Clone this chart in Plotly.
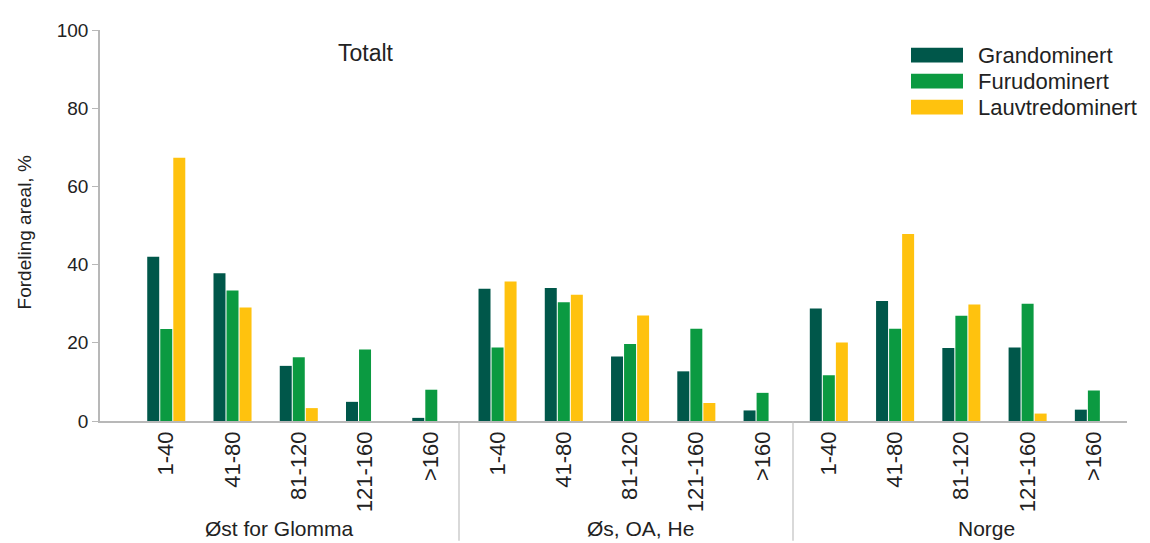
import plotly.graph_objects as go

# ---- data ----
groups = ["Øst for Glomma", "Øs, OA, He", "Norge"]
age_classes = ["1-40", "41-80", "81-120", "121-160", ">160"]
series_names = ["Grandominert", "Furudominert", "Lauvtredominert"]
series_colors = ["#00574a", "#0b9a41", "#ffc20e"]

grandominert = [42.0, 37.8, 14.1, 4.9, 0.8,
                33.8, 34.0, 16.5, 12.7, 2.7,
                28.8, 30.7, 18.7, 18.8, 2.9]
furudominert = [23.5, 33.4, 16.3, 18.3, 8.0,
                18.8, 30.4, 19.7, 23.6, 7.2,
                11.7, 23.6, 26.9, 30.0, 7.8]
lauvtredominert = [67.3, 29.0, 3.3, 0.0, None,
                   35.7, 32.3, 27.0, 4.6, None,
                   20.1, 47.8, 29.8, 1.9, None]

y_ticks = [0, 20, 40, 60, 80, 100]

# ---- figure ----
tick_labels = [a for g in groups for a in age_classes]
xpos = list(range(len(tick_labels)))

FONT = "Liberation Sans, Arial, sans-serif"
TXT = "#222222"
fig = go.Figure()
for name, vals, col in zip(series_names, [grandominert, furudominert, lauvtredominert], series_colors):
    fig.add_trace(go.Bar(x=xpos, y=vals, name=name, marker=dict(color=col, line=dict(width=0)),
                         showlegend=False))

OFF = 8  # page body margin
W, H = 1150 - OFF, 543 - OFF
# plot area in page pixels: x 100..1127, y 23..421
L = 100 - OFF
T = 23 - OFF
R = W - (1127 - OFF)
B = H - (421 - OFF)
pw, ph = W - L - R, H - T - B

def px(xp):
    return (xp - OFF - L) / pw

def py(yp):
    return 1 - (yp - OFF - T) / ph

fig.update_layout(
    width=W, height=H,
    margin=dict(l=L, r=R, t=T, b=B),
    plot_bgcolor="white", paper_bgcolor="white",
    barmode="group", bargap=0.41, bargroupgap=0.08,
    font=dict(family=FONT, color=TXT),
    xaxis=dict(range=[-1, 14.5], tickmode="array", tickvals=xpos, ticktext=tick_labels,
               tickangle=-90, tickfont=dict(size=22, family=FONT, color=TXT),
               showline=True, linecolor="#b8b8b8", linewidth=1.5, showgrid=False,
               zeroline=False, ticks=""),
    yaxis=dict(range=[0, 100], tickvals=y_ticks, tickfont=dict(size=19, family=FONT, color=TXT),
               showline=True, linecolor="#b8b8b8", linewidth=1.5, showgrid=False, zeroline=False,
               ticks="outside", ticklen=6, tickcolor="#b8b8b8", tickwidth=1),
)

# group separators
for xp in [459, 793]:
    fig.add_shape(type="line", xref="paper", yref="paper", x0=px(xp), x1=px(xp),
                  y0=0, y1=py(543), line=dict(color="#c0c0c0", width=1.2))

# group labels
for g, cx in zip(groups, [279, 640, 986]):
    fig.add_annotation(text=g, xref="paper", yref="paper", x=px(cx), y=py(530),
                       xanchor="center", yanchor="middle", showarrow=False,
                       font=dict(size=21, family=FONT, color=TXT))

# y-axis title
fig.add_annotation(text="Fordeling areal, %", xref="paper", yref="paper", x=px(24), y=py(229),
                   textangle=-90, xanchor="center", yanchor="middle", showarrow=False,
                   font=dict(size=19, family=FONT, color=TXT))

# panel title
fig.add_annotation(text="Totalt", xref="paper", yref="paper", x=px(366), y=py(46),
                   xanchor="center", yanchor="middle", showarrow=False,
                   font=dict(size=23, family=FONT, color=TXT))

# custom legend
for i, (name, col) in enumerate(zip(series_names, series_colors)):
    y0 = 41 + i * 26.5
    fig.add_shape(type="rect", xref="paper", yref="paper", x0=px(911), x1=px(963),
                  y0=py(y0 + 15), y1=py(y0), fillcolor=col, line=dict(width=0))
    fig.add_annotation(text=name, xref="paper", yref="paper", x=px(976), y=py(y0 + 7.5),
                       xanchor="left", yanchor="middle", showarrow=False,
                       font=dict(size=22, family=FONT, color=TXT))

fig.write_html("out.html")
